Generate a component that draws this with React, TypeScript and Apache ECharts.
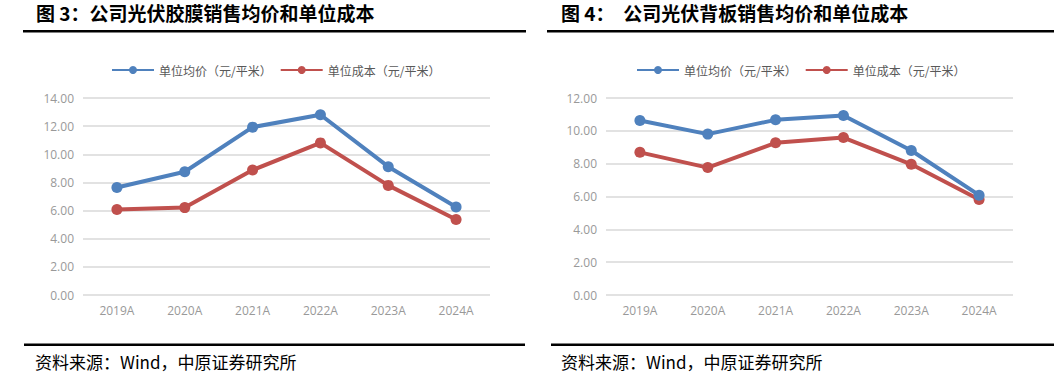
import React, { useEffect, useRef } from "react";
import * as echarts from "echarts";

const categories = ["2019A", "2020A", "2021A", "2022A", "2023A", "2024A"];
const filmPrice = [7.64, 8.76, 11.93, 12.81, 9.12, 6.26];
const filmCost = [6.07, 6.21, 8.88, 10.81, 7.79, 5.36];
const sheetPrice = [10.63, 9.8, 10.67, 10.94, 8.8, 6.08];
const sheetCost = [8.69, 7.76, 9.27, 9.59, 7.96, 5.82];
const seriesNames = ["单位均价（元/平米）", "单位成本（元/平米）"];
const titles = ["图 3：公司光伏胶膜销售均价和单位成本", "图 4：  公司光伏背板销售均价和单位成本"];
const source = "资料来源：Wind，中原证券研究所";

const BLUE = "#4F81BD";
const RED = "#C0504D";
const FONT = "'Noto Sans CJK SC', sans-serif";
const LABEL_FONT = "'Open Sans', Roboto, sans-serif";

export default function App() {
  const ref = useRef<HTMLDivElement>(null);
  useEffect(() => {
    document.body.style.margin = "0";
    const chart = echarts.init(ref.current!, undefined, { renderer: "svg" });
    const yAxisCommon = {
      type: "value",
      min: 0,
      interval: 2,
      axisLine: { show: false },
      axisTick: { show: false },
      axisLabel: {
        color: "#999999",
        fontSize: 12,
        fontFamily: LABEL_FONT,
        margin: 9,
        formatter: (v: number) => v.toFixed(2),
      },
      splitLine: { lineStyle: { color: "#D9D9D9", width: 1.5 } },
    };
    const xAxisCommon = {
      type: "category",
      data: categories,
      boundaryGap: true,
      axisLine: { show: false },
      axisTick: { show: false },
      axisLabel: { color: "#999999", fontSize: 12, fontFamily: LABEL_FONT, margin: 9 },
    };
    const mkSeries = (name: string, data: number[], color: string, idx: number) => ({
      name,
      type: "line",
      data,
      xAxisIndex: idx,
      yAxisIndex: idx,
      symbol: "circle",
      symbolSize: 11,
      lineStyle: { color, width: 4 },
      itemStyle: { color },
      z: name === seriesNames[0] ? 3 : 2,
    });
    const legendCommon = {
      itemWidth: 42,
      itemHeight: 10,
      itemGap: 8,
      top: 59,
      textStyle: { color: "#595959", fontSize: 12, fontFamily: FONT },
      data: seriesNames,
    };
    chart.setOption({
      animation: false,
      legend: [
        { ...legendCommon, left: 106 },
        { ...legendCommon, left: 631 },
      ],
      grid: [
        { left: 83, top: 98, width: 407, height: 197, containLabel: false },
        { left: 606, top: 98, width: 407, height: 197, containLabel: false },
      ],
      xAxis: [
        { ...xAxisCommon, gridIndex: 0 },
        { ...xAxisCommon, gridIndex: 1 },
      ],
      yAxis: [
        { ...yAxisCommon, gridIndex: 0, max: 14 },
        { ...yAxisCommon, gridIndex: 1, max: 12 },
      ],
      series: [
        mkSeries(seriesNames[0], filmPrice, BLUE, 0),
        mkSeries(seriesNames[1], filmCost, RED, 0),
        mkSeries(seriesNames[0], sheetPrice, BLUE, 1),
        mkSeries(seriesNames[1], sheetCost, RED, 1),
      ],
      graphic: [
        {
          type: "text",
          left: 36,
          top: 3,
          style: { text: titles[0], font: `bold 19px ${FONT}`, fill: "#000" },
        },
        {
          type: "text",
          left: 561,
          top: 3,
          style: { text: titles[1], font: `bold 19px ${FONT}`, fill: "#000" },
        },
        { type: "rect", shape: { x: 23, y: 30, width: 503, height: 2.5 }, style: { fill: "#000" } },
        { type: "rect", shape: { x: 547, y: 30, width: 507, height: 2.5 }, style: { fill: "#000" } },
        { type: "rect", shape: { x: 24, y: 343.5, width: 501, height: 2.5 }, style: { fill: "#000" } },
        { type: "rect", shape: { x: 551, y: 343.5, width: 503, height: 2.5 }, style: { fill: "#000" } },
        {
          type: "text",
          left: 35,
          top: 353,
          style: { text: source, font: `17px ${FONT}`, fill: "#000" },
        },
        {
          type: "text",
          left: 561,
          top: 353,
          style: { text: source, font: `17px ${FONT}`, fill: "#000" },
        },
      ],
    });
    return () => chart.dispose();
  }, []);
  return <div ref={ref} style={{ width: 1054, height: 377, position: "absolute", left: 0, top: 0 }} />;
}
